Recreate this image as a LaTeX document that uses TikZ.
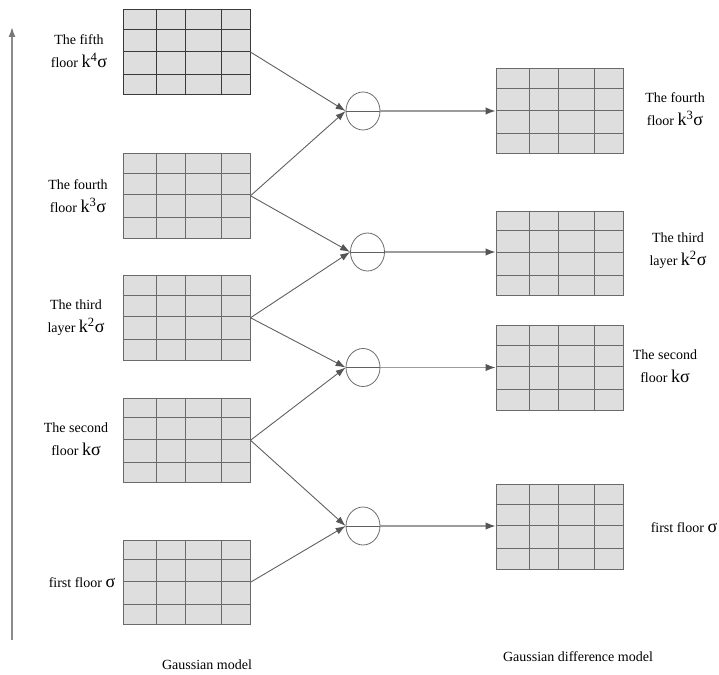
\documentclass[tikz,border=0pt]{standalone}
\usepackage{fontspec}
\setmainfont{Liberation Serif}
\usetikzlibrary{calc,arrows.meta,shapes.geometric}

\definecolor{cellfill}{HTML}{DEDEDE}
\definecolor{gridline}{HTML}{6A6A6A}
\definecolor{gridtop}{HTML}{3A3A3A}
\definecolor{diagc}{HTML}{606060}
\definecolor{horc}{HTML}{9C9C9C}
\definecolor{headc}{HTML}{555555}
\definecolor{axisc}{HTML}{8C8C8C}

% scale symbols k^n sigma, set a little larger than the text
\newcommand\kpow[1]{{\fontsize{18}{18}\selectfont k\textsuperscript{#1}σ}}
\newcommand\ksig{{\fontsize{18}{18}\selectfont kσ}}
\newcommand\sig{{\fontsize{18}{18}\selectfont σ}}

% inner lines of a 4x4 cell grid drawn inside node #2
\newcommand\cellgrid[2][gridline]{%
  \foreach \f in {0.262,0.49,0.775}
    \draw[#1, line width=1pt] ($(#2.north west)!\f!(#2.north east)$) -- ($(#2.south west)!\f!(#2.south east)$);
  \foreach \f in {0.235,0.49,0.76}
    \draw[#1, line width=1pt] ($(#2.north west)!\f!(#2.south west)$) -- ($(#2.north east)!\f!(#2.south east)$);
}

\begin{document}
\begin{tikzpicture}[x=1pt, y=-1pt,
  font=\fontsize{14}{23}\selectfont,
  gridbox/.style={draw=gridline, fill=cellfill, line width=1pt, inner sep=0pt,
    minimum width=127pt, minimum height=84.5pt, anchor=north west},
  lbl/.style={align=center, inner sep=0pt},
  diffnode/.style={ellipse, draw=gridline, line width=0.8pt, inner sep=0pt,
    minimum width=34pt, minimum height=38pt},
  diag/.style={draw=diagc, line width=0.9pt, -{Latex[length=10pt,width=7pt,color=headc]}},
  horiz/.style={draw=horc, line width=1.3pt, -{Latex[length=10pt,width=7.5pt,color=headc]}},
  inner/.style={draw=diagc, line width=0.9pt},
  axis/.style={draw=axisc, line width=1.6pt, -{Latex[length=10pt,width=7pt,color=headc!80]}}
]
\useasboundingbox (0,0) rectangle (719,674);

% scale axis
\coordinate (axb) at (12,640);
\coordinate (axt) at (12,27);
\draw[axis] (axb) -- (axt);

% Gaussian pyramid (left column)
\node[gridbox, draw=gridtop] (L5) at (122.5,9.3) {};
\cellgrid[gridtop]{L5}
\node[gridbox] (L4) at (122.5,153) {};
\cellgrid{L4}
\node[gridbox] (L3) at (122.5,275) {};
\cellgrid{L3}
\node[gridbox] (L2) at (122.5,397.5) {};
\cellgrid{L2}
\node[gridbox] (L1) at (122.5,539.5) {};
\cellgrid{L1}

\node[lbl] (t5) at (79,51) {The fifth\\floor \kpow{4}};
\node[lbl] (t4) at (78,196) {The fourth\\floor \kpow{3}};
\node[lbl] (t3) at (76,317.5) {The third\\layer \kpow{2}};
\node[lbl] (t2) at (76,439) {The second\\floor \ksig};
\node[lbl] (t1) at (82,583) {first floor \sig};

% difference operators
\node[diffnode] (c4) at (363,111) {};
\node[diffnode] (c3) at (367.5,252) {};
\node[diffnode] (c2) at (363,367.5) {};
\node[diffnode] (c1) at (363,526) {};

% difference-of-Gaussian pyramid (right column)
\node[gridbox] (R4) at (495.5,68.3) {};
\cellgrid{R4}
\node[gridbox] (R3) at (495.5,210.5) {};
\cellgrid{R3}
\node[gridbox] (R2) at (495.5,325) {};
\cellgrid{R2}
\node[gridbox] (R1) at (495.5,484) {};
\cellgrid{R1}

\node[lbl] (s4) at (675,109) {The fourth\\floor \kpow{3}};
\node[lbl] (s3) at (678,251) {The third\\layer \kpow{2}};
\node[lbl] (s2) at (665,366.5) {The second\\floor \ksig};
\node[lbl] (s1) at (684,528) {first floor \sig};

% adjacent scales feed each operator
\draw[diag] (L5.east) -- (c4.west);
\draw[diag] (L4.east) -- (c4.west);
\draw[diag] (L4.east) -- (c3.west);
\draw[diag] (L3.east) -- (c3.west);
\draw[diag] (L3.east) -- (c2.west);
\draw[diag] (L2.east) -- (c2.west);
\draw[diag] (L2.east) -- (c1.west);
\draw[diag] (L1.east) -- (c1.west);

% operator outputs
\foreach \c/\r in {c4/R4, c3/R3, c2/R2, c1/R1} {
  \draw[horiz] (\c.east) -- (\c.east -| \r.west);
  \draw[inner] (\c.west) -- (\c.east);
}

% captions
\node (cap1) at (207,665) {Gaussian model};
\node (cap2) at (578,657) {Gaussian difference model};
\end{tikzpicture}
\end{document}
